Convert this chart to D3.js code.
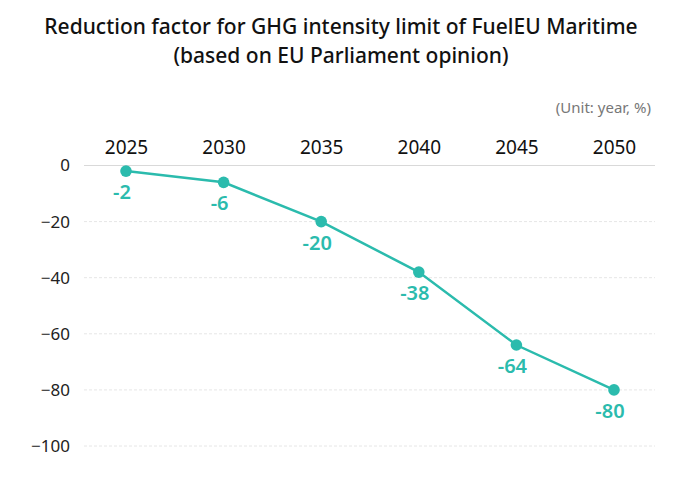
<!DOCTYPE html>
<html><head><meta charset="utf-8">
<script src="https://cdn.jsdelivr.net/npm/d3@7"></script>
<style>body{margin:0;background:#fff;font-family:"Noto Sans","Open Sans",sans-serif;}</style>
</head><body><svg id="c" width="682" height="483"></svg>
<script>
const years = ["2025","2030","2035","2040","2045","2050"];
const values = [-2,-6,-20,-38,-64,-80];
const yTicks = [0,-20,-40,-60,-80,-100];
const titleLines = ["Reduction factor for GHG intensity limit of FuelEU Maritime","(based on EU Parliament opinion)"];
const unitText = "(Unit: year, %)";

const svg = d3.select("#c");
const color = "#2bbbad";
const x = d3.scalePoint().domain(years).range([126,614]);
const y = d3.scaleLinear().domain([-100,0]).range([446,165.5]);

svg.selectAll("text.title").data(titleLines).join("text")
  .attr("x",341).attr("y",(d,i)=>34+i*29).attr("text-anchor","middle")
  .attr("font-size",21).attr("font-weight",500).attr("fill","#111").text(d=>d);

svg.append("text").attr("x",651).attr("y",113).attr("text-anchor","end")
  .attr("font-size",15).attr("fill","#777").text(unitText);

// gridlines
svg.append("g").selectAll("line").data(yTicks).join("line")
  .attr("x1",84).attr("x2",655).attr("y1",d=>y(d)).attr("y2",d=>y(d))
  .attr("stroke",d=>d===0?"#d9d9d9":"#e6e6e6")
  .attr("stroke-width",1)
  .attr("stroke-dasharray",d=>d===0?null:"3,2");

// y axis
const yAxis = d3.axisLeft(y).tickValues(yTicks).tickSize(0).tickPadding(0)
  .tickFormat(d=>d===0?"0":"\u2212"+Math.abs(d));
const ya = svg.append("g").attr("transform","translate(70,0)").call(yAxis);
ya.select(".domain").remove();
ya.selectAll("text").attr("font-size",17).attr("fill","#222").attr("font-family","Noto Sans, sans-serif");

// x axis on top
const xAxis = d3.axisTop(x).tickSize(0).tickPadding(0);
const xa = svg.append("g").attr("transform","translate(0,154)").call(xAxis);
xa.select(".domain").remove();
xa.selectAll("text").attr("font-size",19).attr("fill","#111").attr("font-family","Noto Sans, sans-serif");

const data = years.map((yr,i)=>({yr,v:values[i]}));
svg.append("path").datum(data)
  .attr("fill","none").attr("stroke",color).attr("stroke-width",2.5)
  .attr("d",d3.line().x(d=>x(d.yr)).y(d=>y(d.v)));
svg.selectAll("circle").data(data).join("circle")
  .attr("cx",d=>x(d.yr)).attr("cy",d=>y(d.v)).attr("r",5.8).attr("fill",color);
svg.selectAll("text.lbl").data(data).join("text").attr("class","lbl")
  .attr("x",d=>x(d.yr)-4).attr("y",d=>y(d.v)+28).attr("text-anchor","middle")
  .attr("font-size",20).attr("font-weight",600).attr("fill",color).text(d=>d.v);
</script></body></html>
